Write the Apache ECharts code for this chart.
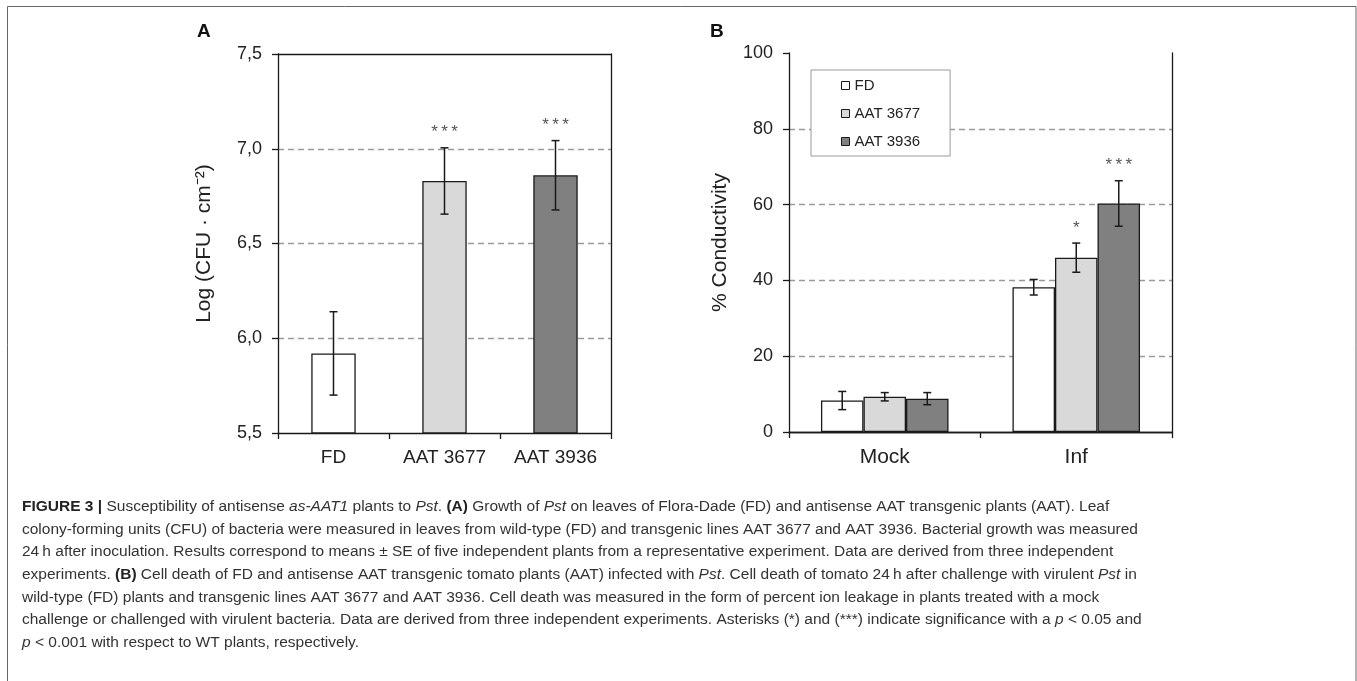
<!DOCTYPE html>
<html><head><meta charset="utf-8">
<script src="https://cdn.jsdelivr.net/npm/echarts@6/dist/echarts.min.js"></script>
<style>html,body{margin:0;padding:0;background:#fff}#c{width:1357px;height:681px}</style>
</head><body><div id="c"></div>
<script>
// ---- Panel A data ----
const catsA = ['FD', 'AAT 3677', 'AAT 3936'];
const valsA = [5.92, 6.83, 6.86];
const errsA = [0.22, 0.175, 0.183];
const sigA = ['', '***', '***'];
const colorsA = ['#ffffff', '#d9d9d9', '#808080'];

// ---- Panel B data ----
const catsB = ['Mock', 'Inf'];
const namesB = ['FD', 'AAT 3677', 'AAT 3936'];
const valsB_FD = [8.3, 38.2];
const valsB_3677 = [9.3, 46.0];
const valsB_3936 = [8.8, 60.3];
const errsB_FD = [2.4, 2.05];
const errsB_3677 = [1.1, 3.85];
const errsB_3936 = [1.6, 6.0];
const sigB_FD = ['', ''];
const sigB_3677 = ['', '*'];
const sigB_3936 = ['', '***'];
const colorsB = ['#ffffff', '#d9d9d9', '#808080'];

// ---- Caption ----
const captionLines = [
  '{b|FIGURE 3 |} Susceptibility of antisense {i|as-AAT1} plants to {i|Pst}. {b|(A)} Growth of {i|Pst} on leaves of Flora-Dade (FD) and antisense AAT transgenic plants (AAT). Leaf',
  'colony-forming units (CFU) of bacteria were measured in leaves from wild-type (FD) and transgenic lines AAT 3677 and AAT 3936. Bacterial growth was measured',
  '24\u2009h after inoculation. Results correspond to means \u00b1 SE of five independent plants from a representative experiment. Data are derived from three independent',
  'experiments. {b|(B)} Cell death of FD and antisense AAT transgenic tomato plants (AAT) infected with {i|Pst}. Cell death of tomato 24\u2009h after challenge with virulent {i|Pst} in',
  'wild-type (FD) plants and transgenic lines AAT 3677 and AAT 3936. Cell death was measured in the form of percent ion leakage in plants treated with a mock',
  'challenge or challenged with virulent bacteria. Data are derived from three independent experiments. Asterisks (*) and (***) indicate significance with a {i|p} < 0.05 and',
  '{i|p} < 0.001 with respect to WT plants, respectively.'
];

const FONT = "'Liberation Sans', Arial, sans-serif";
const INK = '#1a1a1a';
const CAP_FS = 15.5;

function errSeries(name, xi, yi, vals, errs, sigs, k, n, frac) {
  return {
    type: 'custom', name: name, xAxisIndex: xi, yAxisIndex: yi, z: 5,
    data: vals.map((v, i) => [i, v, errs[i]]),
    renderItem: function (params, api) {
      const ci = api.value(0), v = api.value(1), e = api.value(2);
      const band = api.size([1, 0])[0];
      const off = (k - (n - 1) / 2) * band * frac;
      const top = api.coord([ci, v + e]);
      const bot = api.coord([ci, v - e]);
      const x = top[0] + off;
      const cap = 4;
      const ls = { stroke: INK, lineWidth: 1.5 };
      const children = [
        { type: 'line', shape: { x1: x, y1: top[1], x2: x, y2: bot[1] }, style: ls },
        { type: 'line', shape: { x1: x - cap, y1: top[1], x2: x + cap, y2: top[1] }, style: ls },
        { type: 'line', shape: { x1: x - cap, y1: bot[1], x2: x + cap, y2: bot[1] }, style: ls }
      ];
      const s = sigs[params.dataIndex];
      if (s) {
        children.push({ type: 'text', style: { text: s.split('').join('\u2009'), x: x, y: top[1] - 15,
          align: 'center', verticalAlign: 'middle', font: '17px ' + FONT, fill: '#555' } });
      }
      return { type: 'group', children: children };
    }
  };
}

function catAxis(gi, cats, pos, fs) {
  const main = pos === 'bottom';
  return {
    type: 'category', gridIndex: gi, data: cats, position: pos,
    axisLine: { show: true, lineStyle: { color: INK, width: 1.3 } },
    axisTick: { show: main, length: 6, lineStyle: { color: INK, width: 1.3 } },
    axisLabel: { show: main, fontSize: fs, color: '#222', fontFamily: FONT, margin: 15 },
    splitLine: { show: false }
  };
}
function valAxis(gi, min, max, interval, pos, name, fmt, gap) {
  const main = pos === 'left';
  return {
    type: 'value', gridIndex: gi, min: min, max: max, interval: interval, position: pos,
    name: main ? name : '', nameLocation: 'middle', nameGap: gap,
    nameTextStyle: { fontSize: 21, color: '#222', fontFamily: FONT },
    axisLine: { show: true, lineStyle: { color: INK, width: 1.3 } },
    axisTick: { show: main, length: 6, lineStyle: { color: INK, width: 1.3 } },
    axisLabel: { show: main, fontSize: 18, color: '#222', fontFamily: FONT, margin: 16, formatter: fmt },
    splitLine: { show: main, showMinLine: false, showMaxLine: false,
      lineStyle: { color: '#9a9a9a', type: [6, 4], width: 1.3 } }
  };
}

const barStyle = (c) => ({ color: c, borderColor: INK, borderWidth: 1.3 });

const option = {
  animation: false,
  backgroundColor: '#fff',
  textStyle: { fontFamily: FONT },
  grid: [
    { left: 278, top: 54, width: 333, height: 379, containLabel: false },
    { left: 789, top: 53, width: 383, height: 379, containLabel: false }
  ],
  xAxis: [
    catAxis(0, catsA, 'bottom', 19),
    catAxis(0, catsA, 'top', 19),
    catAxis(1, catsB, 'bottom', 21),
    catAxis(1, catsB, 'top', 21)
  ],
  yAxis: [
    valAxis(0, 5.5, 7.5, 0.5, 'left', 'Log (CFU \u00b7 cm\u207b\u00b2)', v => v.toFixed(1).replace('.', ','), 63),
    valAxis(0, 5.5, 7.5, 0.5, 'right', '', null, 0),
    valAxis(1, 0, 100, 20, 'left', '% Conductivity', v => String(v), 58),
    valAxis(1, 0, 100, 20, 'right', '', null, 0)
  ],
  legend: {
    data: namesB, orient: 'vertical', left: 811, top: 70,
    padding: [8, 30, 7, 30], itemGap: 13, itemWidth: 8, itemHeight: 8, icon: 'rect',
    textStyle: { fontSize: 15, color: '#222', fontFamily: FONT },
    borderColor: '#999', borderWidth: 1, backgroundColor: '#fff', selectedMode: false,
    itemStyle: { borderColor: INK, borderWidth: 1 }
  },
  series: [
    { type: 'bar', name: 'Log CFU', xAxisIndex: 0, yAxisIndex: 0, barWidth: '40%',
      data: valsA.map((v, i) => ({ value: v, itemStyle: barStyle(colorsA[i]) })) },
    errSeries('errA', 0, 0, valsA, errsA, sigA, 0, 1, 0),
    { type: 'bar', name: namesB[0], xAxisIndex: 2, yAxisIndex: 2, barWidth: '22.2%', barGap: 0,
      itemStyle: barStyle(colorsB[0]), data: valsB_FD },
    { type: 'bar', name: namesB[1], xAxisIndex: 2, yAxisIndex: 2, barWidth: '22.2%', barGap: 0,
      itemStyle: barStyle(colorsB[1]), data: valsB_3677 },
    { type: 'bar', name: namesB[2], xAxisIndex: 2, yAxisIndex: 2, barWidth: '22.2%', barGap: 0,
      itemStyle: barStyle(colorsB[2]), data: valsB_3936 },
    errSeries('errB0', 2, 2, valsB_FD, errsB_FD, sigB_FD, 0, 3, 0.222),
    errSeries('errB1', 2, 2, valsB_3677, errsB_3677, sigB_3677, 1, 3, 0.222),
    errSeries('errB2', 2, 2, valsB_3936, errsB_3936, sigB_3936, 2, 3, 0.222)
  ],
  graphic: [
    { type: 'rect', shape: { x: 7.5, y: 6.5, width: 1348.5, height: 700 },
      style: { fill: 'none', stroke: '#666', lineWidth: 1 }, silent: true, z: -1 },
    { type: 'text', left: 197, top: 22, style: { text: 'A', font: 'bold 19px ' + FONT, fill: '#111' } },
    { type: 'text', left: 710, top: 22, style: { text: 'B', font: 'bold 19px ' + FONT, fill: '#111' } }
  ].concat(captionLines.map((t, i) => ({
    type: 'text', x: 22, y: 506.7 + i * 22.67,
    style: { text: t, fontSize: CAP_FS, fontFamily: FONT, fill: '#333', verticalAlign: 'middle',
      rich: { b: { fontWeight: 'bold', fontSize: CAP_FS, fontFamily: FONT, fill: '#222' },
              i: { fontStyle: 'italic', fontSize: CAP_FS, fontFamily: FONT, fill: '#333' } } }
  })))
};

const chart = echarts.init(document.getElementById('c'), null, { renderer: 'canvas' });
chart.setOption(option);
</script>
</body></html>
